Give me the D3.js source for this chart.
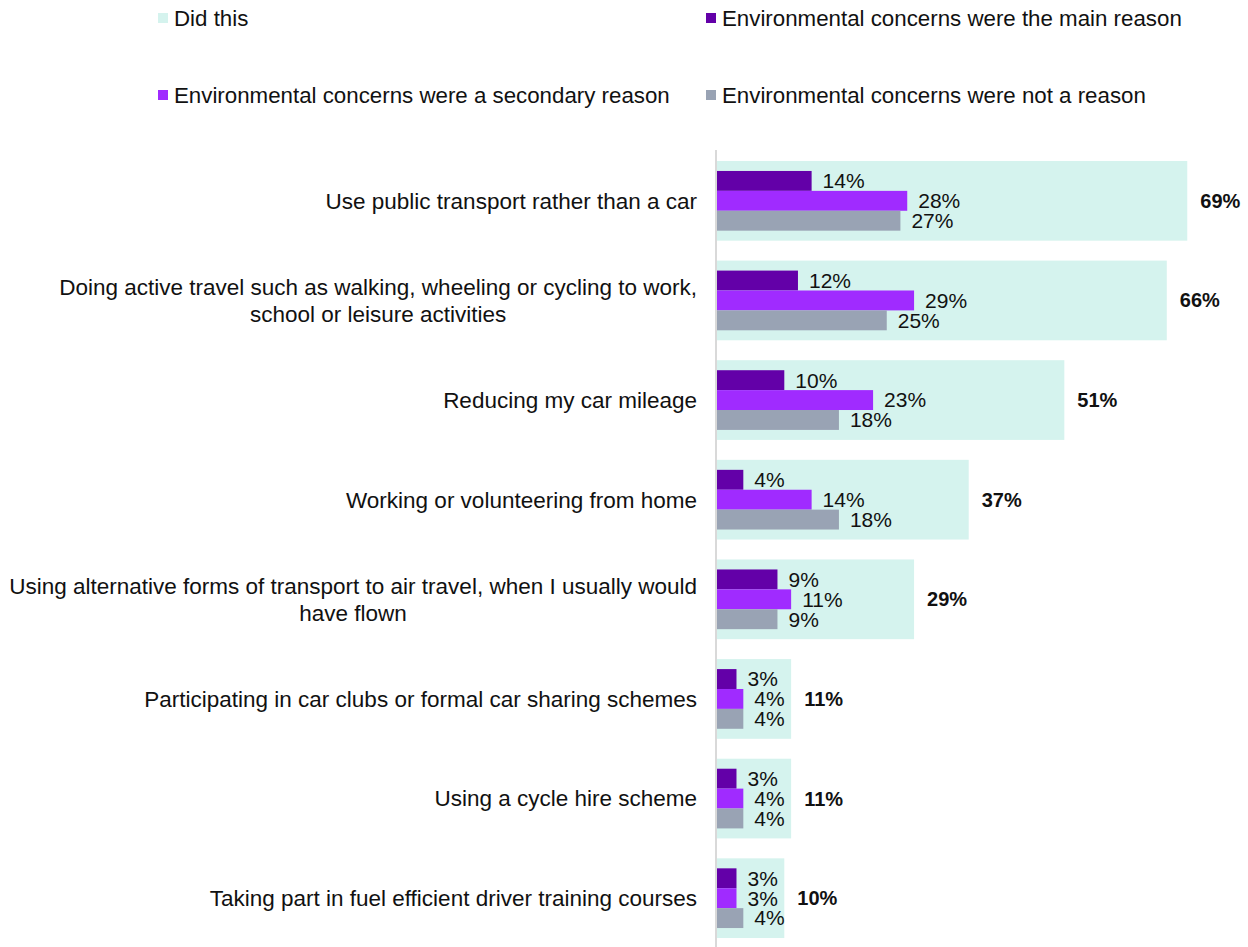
<!DOCTYPE html>
<html>
<head>
<meta charset="utf-8">
<script src="https://cdn.jsdelivr.net/npm/d3@7"></script>
<style>
  html, body { margin: 0; padding: 0; background: #fff; }
  svg { display: block; font-family: "Liberation Sans", Arial, sans-serif; }
</style>
</head>
<body>
<svg id="chart" width="1248" height="947"></svg>
<script>
// Travel actions and the role of environmental concerns
const categories = [
  ["Use public transport rather than a car"],
  ["Doing active travel such as walking, wheeling or cycling to work,", "school or leisure activities"],
  ["Reducing my car mileage"],
  ["Working or volunteering from home"],
  ["Using alternative forms of transport to air travel, when I usually would", "have flown"],
  ["Participating in car clubs or formal car sharing schemes"],
  ["Using a cycle hire scheme"],
  ["Taking part in fuel efficient driver training courses"]
];
const didThis = [69, 66, 51, 37, 29, 11, 11, 10];
const mainReason = [14, 12, 10, 4, 9, 3, 3, 3];
const secondaryReason = [28, 29, 23, 14, 11, 4, 4, 3];
const notReason = [27, 25, 18, 18, 9, 4, 4, 4];

const seriesNames = [
  "Did this",
  "Environmental concerns were the main reason",
  "Environmental concerns were a secondary reason",
  "Environmental concerns were not a reason"
];
const colors = ["#d5f3ee", "#6300a8", "#a02bff", "#99a3b4"];

const svg = d3.select("#chart");
const axisX = 716;

const keys = categories.map((c, i) => i);
const x = d3.scaleLinear().domain([0, 100]).range([axisX, axisX + 683]);
const y = d3.scaleBand().domain(keys).range([151, 948]).paddingInner(0.2).paddingOuter(0.1);
const sub = d3.scaleBand().domain([0, 1, 2]).range([10, y.bandwidth() - 10]);

const subSeries = [mainReason, secondaryReason, notReason];

// Legend (two columns, two rows)
const legendPos = [[158, 18], [706, 18], [158, 95], [706, 95]];
const legend = svg.append("g");
seriesNames.forEach((name, i) => {
  const [lx, ly] = legendPos[i];
  legend.append("rect").attr("x", lx).attr("y", ly - 5).attr("width", 10).attr("height", 10).attr("fill", colors[i]);
  legend.append("text").attr("x", lx + 16).attr("y", ly).attr("dy", "0.35em")
    .attr("font-size", 22.3).attr("fill", "#111").text(name);
});

// Rows
const rows = svg.append("g").selectAll("g").data(keys).join("g")
  .attr("transform", d => `translate(0,${y(d)})`);

rows.append("rect")
  .attr("x", x(0)).attr("y", 0)
  .attr("width", d => x(didThis[d]) - x(0))
  .attr("height", y.bandwidth())
  .attr("fill", colors[0]);

rows.append("text")
  .attr("x", d => x(didThis[d]) + 13)
  .attr("y", y.bandwidth() / 2)
  .attr("dy", "0.35em")
  .attr("font-size", 20).attr("font-weight", "bold").attr("fill", "#111")
  .text(d => didThis[d] + "%");

subSeries.forEach((vals, s) => {
  rows.append("rect")
    .attr("x", x(0)).attr("y", sub(s))
    .attr("width", d => x(vals[d]) - x(0))
    .attr("height", sub.bandwidth())
    .attr("fill", colors[s + 1]);
  rows.append("text")
    .attr("x", d => x(vals[d]) + 11)
    .attr("y", sub(s) + sub.bandwidth() / 2)
    .attr("dy", "0.35em")
    .attr("font-size", 21).attr("fill", "#111")
    .text(d => vals[d] + "%");
});

// Category labels: right-aligned block, lines centred within it
const lineH = 27;
rows.each(function(d) {
  const g = d3.select(this);
  const lines = categories[d];
  const t = g.append("text").attr("font-size", 22.5).attr("fill", "#111").attr("text-anchor", "middle");
  const spans = lines.map((ln, i) => t.append("tspan").text(ln)
    .attr("y", y.bandwidth() / 2 + (i - (lines.length - 1) / 2) * lineH)
    .attr("dy", "0.35em"));
  const maxW = d3.max(spans, s => s.node().getComputedTextLength());
  spans.forEach(s => s.attr("x", axisX - 19 - maxW / 2));
});

// Vertical axis line
svg.append("line")
  .attr("x1", axisX).attr("x2", axisX)
  .attr("y1", 150).attr("y2", 947)
  .attr("stroke", "#d9d9d9").attr("stroke-width", 2);
</script>
</body>
</html>
